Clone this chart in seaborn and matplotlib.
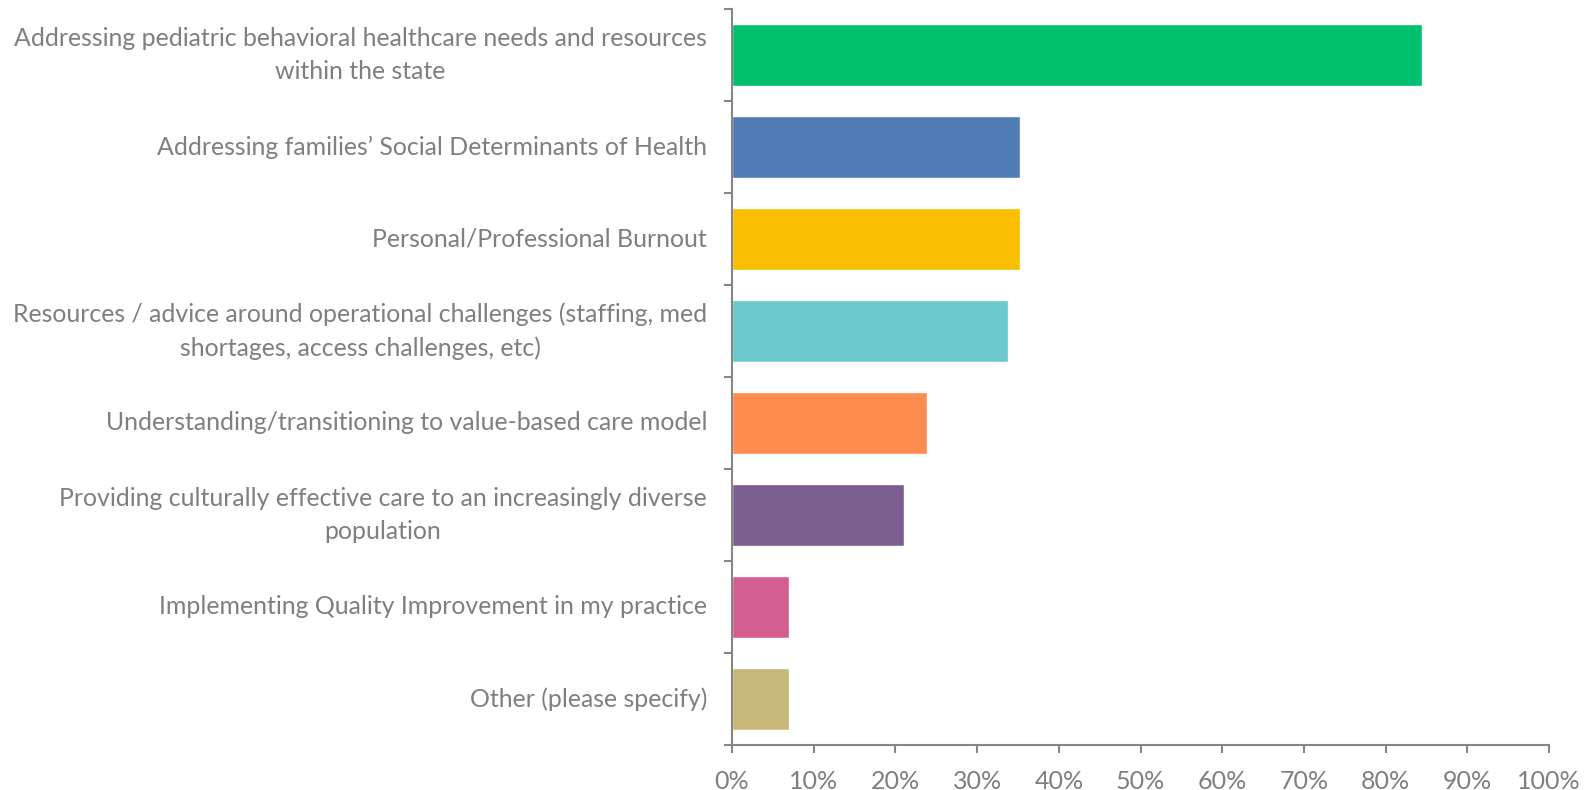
import matplotlib
matplotlib.use("Agg")
import matplotlib.pyplot as plt
import seaborn as sns
import pandas as pd
import numpy as np

categories = [
    "Addressing pediatric behavioral healthcare needs and resources\nwithin the state",
    "Addressing families\u2019 Social Determinants of Health",
    "Personal/Professional Burnout",
    "Resources / advice around operational challenges (staffing, med\nshortages, access challenges, etc)",
    "Understanding/transitioning to value-based care model",
    "Providing culturally effective care to an increasingly diverse\npopulation",
    "Implementing Quality Improvement in my practice",
    "Other (please specify)",
]
values = [84.5, 35.2, 35.2, 33.8, 23.9, 21.1, 7.0, 7.0]
colors = ["#00BF6F", "#507CB6", "#F9BE00", "#6BC8CD", "#FF8B4F", "#7D5E90", "#D25F90", "#C7B879"]
xticks = [0, 10, 20, 30, 40, 50, 60, 70, 80, 90, 100]
xticklabels = [f"{t}%" for t in xticks]

sns.set_theme(style="white")
plt.rcParams['font.family'] = ['Lato', 'DejaVu Sans']

df = pd.DataFrame({"cat": categories, "val": values})

fig = plt.figure(figsize=(15.9, 7.9), dpi=100)
ax = fig.add_axes([732/1590, 45/790, (1549-732)/1590, (745-9)/790])

sns.barplot(data=df, x="val", y="cat", hue="cat", palette=colors, orient="h",
            width=0.667, legend=False, ax=ax, saturation=1)

axc = "#868686"
txtc = "#7F7F7F"
ax.set_xlim(0, 100)
ax.set_ylim(len(categories) - 0.5, -0.5)
ax.set_xlabel("")
ax.set_ylabel("")

for s in ["top", "right"]:
    ax.spines[s].set_visible(False)
for s in ["left", "bottom"]:
    ax.spines[s].set_color(axc)
    ax.spines[s].set_linewidth(1.5)

ax.set_xticks(xticks)
ax.set_xticklabels(xticklabels, color=txtc, fontsize=18)
ax.tick_params(axis="x", which="major", length=6, width=1.5, color=axc, direction="out", pad=12, bottom=True)

ax.set_yticks(range(len(categories)))
ax.set_yticklabels(categories, color=txtc, fontsize=17.9, multialignment="center",
                   linespacing=1.55, va="center")
ax.tick_params(axis="y", which="major", length=0, pad=18, left=True)
ax.set_yticks(np.arange(-0.5, len(categories) + 0.5, 1), minor=True)
ax.tick_params(axis="y", which="minor", length=6, width=1.5, color=axc, direction="out", left=True)

fig.savefig("out.png", dpi=100)
